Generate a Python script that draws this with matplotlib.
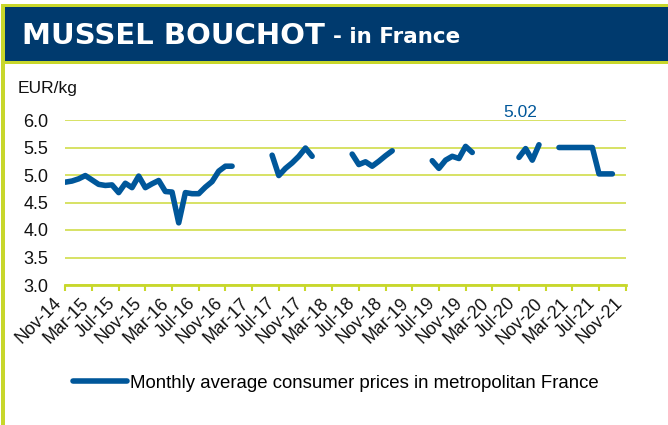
import numpy as np
import matplotlib
matplotlib.use("Agg")
import matplotlib.pyplot as plt
from matplotlib.patches import Rectangle

# x tick labels, one every 4 months (Nov-14 .. Nov-21)
tick_labels = ["Nov-14", "Mar-15", "Jul-15", "Nov-15", "Mar-16", "Jul-16",
               "Nov-16", "Mar-17", "Jul-17", "Nov-17", "Mar-18", "Jul-18",
               "Nov-18", "Mar-19", "Jul-19", "Nov-19", "Mar-20", "Jul-20",
               "Nov-20", "Mar-21", "Jul-21", "Nov-21"]

# monthly prices EUR/kg from Nov-14 to Sep-21 (None = no data)
prices = [4.87, 4.89, 4.93, 4.99, 4.91, 4.83, 4.81, 4.82, 4.68, 4.85,
          4.77, 4.98, 4.77, 4.84, 4.90, 4.70, 4.69, 4.13, 4.68, 4.66,
          4.66, 4.78, 4.88, 5.07, 5.16, 5.16,
          None, None, None, None, None,
          5.36, 4.99, 5.12, 5.22, 5.34, 5.49, 5.34,
          None, None, None, None, None,
          5.38, 5.19, 5.24, 5.16, 5.25, 5.35, 5.44,
          None, None, None, None, None,
          5.26, 5.12, 5.27, 5.34, 5.30, 5.52, 5.41,
          None, None, None, None, None, None,
          5.32, 5.48, 5.27, 5.55,
          None, None,
          5.50, 5.50, 5.50, 5.50, 5.50, 5.50, 5.02, 5.02, 5.02]

series_label = "Monthly average consumer prices in metropolitan France"

blue = "#00579a"
lime = "#c8d72b"
navy = "#003a6e"
W, H = 668, 425

plt.rcParams['font.family'] = ['Liberation Sans', 'DejaVu Sans']


def fx(px):
    return px / W


def fy(py):
    return 1 - py / H


fig = plt.figure(figsize=(W / 100, H / 100), dpi=100)

# frame and header band (drawn behind the axes)
def band(x0, y0, x1, y1, color):
    fig.patches.append(Rectangle((fx(x0), fy(y1)), fx(x1) - fx(x0), fy(y0) - fy(y1),
                                 transform=fig.transFigure, facecolor=color,
                                 edgecolor='none', zorder=-10))

band(1, 4, 668, 425, lime)
band(5, 7, 668, 425, 'white')
band(5, 61, 668, 64, lime)
band(5, 7, 668, 61, navy)

fig.text(fx(22), fy(36), "MUSSEL BOUCHOT", color='white', fontsize=21,
         fontweight='bold', family='DejaVu Sans', va='center', ha='left')
fig.text(fx(333), fy(37), "- in France", color='white', fontsize=15.5,
         fontweight='bold', family='DejaVu Sans', va='center', ha='left')
fig.text(fx(18), fy(88), "EUR/kg", fontsize=12.5, color='#111111', va='center', ha='left')

# plot area
ax = fig.add_axes([fx(65.3), fy(285), fx(625.7) - fx(65.3), fy(120) - fy(285)])
ax.set_zorder(2)
ax.patch.set_alpha(0)
months = np.arange(len(prices))
values = np.array([np.nan if v is None else v for v in prices], dtype=float)
line, = ax.plot(months, values, color=blue, lw=4.0, solid_capstyle='round',
                solid_joinstyle='round', label=series_label, zorder=3)

ax.set_ylim(3.0, 6.0)
ax.set_xlim(0, 84)
ax.set_yticks(np.arange(3.0, 6.01, 0.5))
ax.set_yticklabels([f"{v:.1f}" for v in np.arange(3.0, 6.01, 0.5)])
ax.set_xticks(np.arange(0, 85, 4))
ax.set_xticklabels(tick_labels, rotation=45, ha='right', rotation_mode='default')

ax.grid(axis='y', color=lime, lw=1.2, alpha=0.85)
ax.set_axisbelow(True)
for s in ['top', 'right', 'left']:
    ax.spines[s].set_visible(False)
ax.spines['bottom'].set_color(lime)
ax.spines['bottom'].set_linewidth(2)
ax.tick_params(axis='y', length=0, pad=12, labelsize=13, labelcolor='#111111')
ax.tick_params(axis='x', length=4, width=1.5, color=lime, pad=3,
               labelsize=12.8, labelcolor='#111111')

# data label of the last value
ax.text(68.2, 6.0, f"{prices[-1]:.2f}", color=blue, fontsize=12.5,
        ha='center', va='bottom', clip_on=False)

fig.legend(handles=[line], loc='center', bbox_to_anchor=(fx(336), fy(383)),
           frameon=False, fontsize=13.4, handlelength=2.9, handletextpad=0.15)

fig.savefig("out.png", dpi=100)
